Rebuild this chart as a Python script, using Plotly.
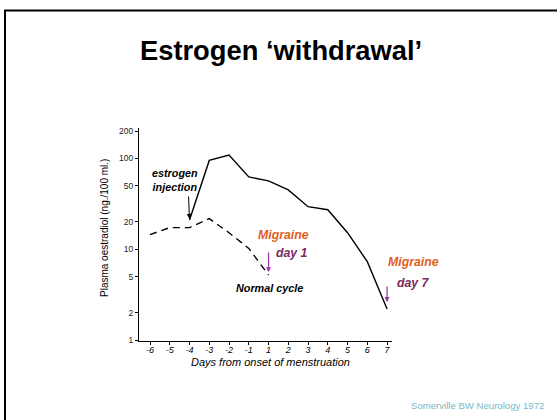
import math
import plotly.graph_objects as go

# ---- data ----
days = ["-6", "-5", "-4", "-3", "-2", "-1", "1", "2", "3", "4", "5", "6", "7"]
normal_days = ["-6", "-5", "-4", "-3", "-2", "-1", "1"]
normal_vals = [14.5, 17.3, 17.3, 21.7, 15.2, 10.2, 5.2]
inj_days = ["-4", "-3", "-2", "-1", "1", "2", "3", "4", "5", "6", "7"]
inj_vals = [21, 95, 109, 62.5, 56.5, 45, 29.4, 27.2, 15.2, 7.3, 2.2]
y_ticks = [1, 2, 5, 10, 20, 50, 100, 200]

pos = {d: i for i, d in enumerate(days)}

W, H = 557, 420
L, R, T, B = 139, 392, 128, 341  # plot area pixel box

def px(x):
    return (x - L) / (R - L)

def py(y):
    return (B - y) / (B - T)

FONT = "Liberation Sans, Arial, sans-serif"

fig = go.Figure()
fig.add_trace(go.Scatter(x=[pos[d] for d in normal_days], y=normal_vals, mode="lines",
                         line=dict(color="black", width=1.4, dash="7px,5px"),
                         showlegend=False, hoverinfo="skip"))
fig.add_trace(go.Scatter(x=[pos[d] for d in inj_days], y=inj_vals, mode="lines",
                         line=dict(color="black", width=1.4),
                         showlegend=False, hoverinfo="skip"))

ann = []
def text(t, x, y, size, color="black", bold=True, italic=True):
    s = t
    if bold:
        s = "<b>" + s + "</b>"
    if italic:
        s = "<i>" + s + "</i>"
    ann.append(dict(text=s, x=px(x), y=py(y), xref="paper", yref="paper",
                    showarrow=False, xanchor="center", yanchor="middle",
                    font=dict(family=FONT, size=size, color=color)))

text("Estrogen ‘withdrawal’", 281, 50, 27.3, italic=False)
text("estrogen<br>injection", 175, 180, 10.8)
text("Migraine", 283, 235, 12.3, color="#E0601E")
text("day 1", 292, 253, 12.3, color="#7B2A60")
text("Normal cycle", 269, 288, 10.8)
text("Migraine", 413, 262, 12.3, color="#E0601E")
text("day 7", 413, 283, 12.3, color="#7B2A60")
text("Days from onset of menstruation", 270, 362, 11, bold=False)
text("Somerville BW Neurology 1972", 477, 405, 9.6, color="#7AB8C6", bold=False, italic=False)
ann.append(dict(text="Plasma oestradiol (ng./100 ml.)", x=px(104), y=py(228),
                xref="paper", yref="paper", showarrow=False, textangle=-90,
                xanchor="center", yanchor="middle",
                font=dict(family=FONT, size=10, color="black")))

# arrows
ann.append(dict(text="", x=pos[inj_days[0]], y=math.log10(inj_vals[0]), xref="x", yref="y",
                ax=-1, ay=-25, showarrow=True, arrowhead=2, arrowsize=1,
                arrowwidth=1, arrowcolor="black", standoff=1))
ann.append(dict(text="", x=pos[normal_days[-1]], y=math.log10(normal_vals[-1]), xref="x", yref="y",
                ax=0, ay=-24, showarrow=True, arrowhead=2, arrowsize=0.8,
                arrowwidth=1.2, arrowcolor="#9A2FA6", standoff=3))
ann.append(dict(text="", x=pos[inj_days[-1]], y=math.log10(inj_vals[-1]), xref="x", yref="y",
                ax=0, ay=-24, showarrow=True, arrowhead=2, arrowsize=0.8,
                arrowwidth=1.2, arrowcolor="#9A2FA6", standoff=7))

fig.update_layout(
    width=W, height=H,
    margin=dict(l=L, r=W - R, t=T, b=H - B, pad=0),
    paper_bgcolor="white", plot_bgcolor="white",
    annotations=ann,
    shapes=[dict(type="rect", xref="paper", yref="paper",
                 x0=px(5), x1=px(700), y0=py(700), y1=py(10.5),
                 line=dict(color="black", width=2))],
    xaxis=dict(range=[-0.557, 12.25], showgrid=False, zeroline=False,
               showline=True, linecolor="black", linewidth=1,
               tickvals=list(range(len(days))),
               ticktext=["<i>" + d + "</i>" for d in days],
               ticks="outside", ticklen=3, tickcolor="black",
               tickfont=dict(family=FONT, size=9, color="black"),
               ticklabelstandoff=-3),
    yaxis=dict(type="log", range=[-0.011, 2.335], showgrid=False, zeroline=False,
               showline=True, linecolor="black", linewidth=1,
               tickvals=y_ticks, ticktext=[str(v) for v in y_ticks],
               ticks="outside", ticklen=3, tickcolor="black",
               tickfont=dict(family=FONT, size=8.5, color="#222")),
)
fig.write_html("out.html", config={"displayModeBar": False},
               post_script="document.body.style.margin='0';")
